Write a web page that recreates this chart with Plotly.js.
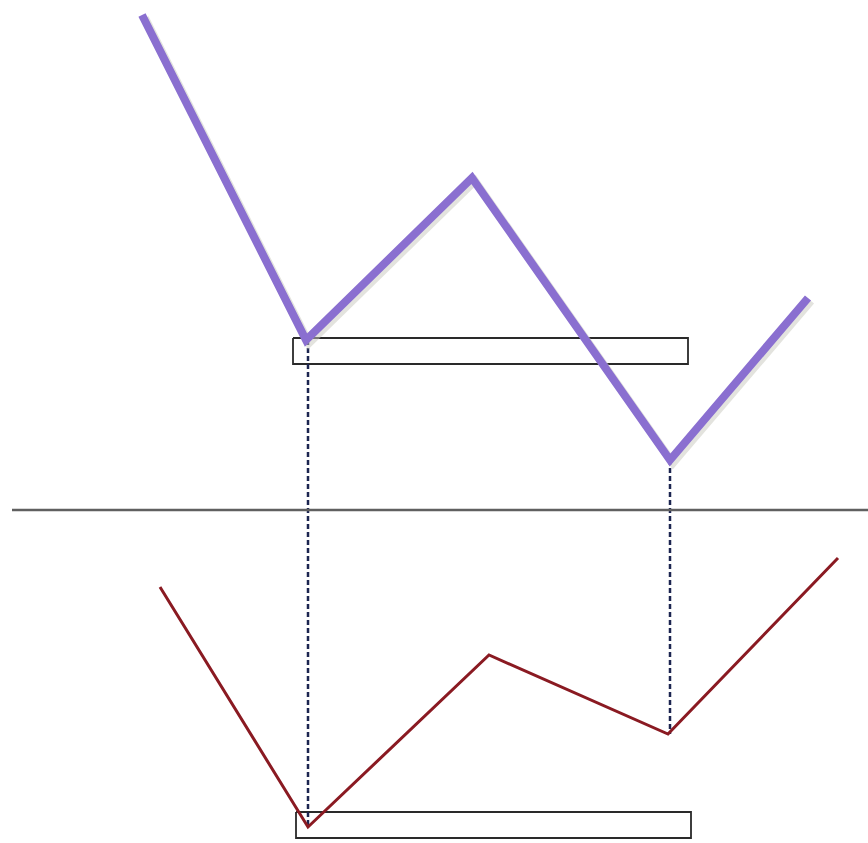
<!DOCTYPE html>
<html>
<head>
<meta charset="utf-8">
<script src="https://cdn.plot.ly/plotly-3.0.1.min.js"></script>
<style>html,body{margin:0;padding:0;background:#fff;}#chart{width:868px;height:843px;}</style>
</head>
<body>
<div id="chart"></div>
<script>
// Price line (upper, purple)
const priceX = [142, 306, 472, 670, 808];
const priceY = [15, 340, 178, 460, 298];
// Oscillator line (lower, red)
const oscX = [160, 308, 489, 668, 838];
const oscY = [587, 827, 655, 734, 558];
// Divider line
const dividerX = [12, 868];
const dividerY = [510, 510];
// Dashed connectors (x position, top y, bottom y)
const connX = [308, 670];
const connTop = [340, 460];
const connBottom = [827, 734];
// Horizontal boxes: [x0, x1], [y0, y1]
const boxUpperX = [293, 688];
const boxUpperY = [338, 364];
const boxLowerX = [296, 691];
const boxLowerY = [812, 838];

function rect(xs, ys) {
  return {x: [xs[0], xs[1], xs[1], xs[0], xs[0]], y: [ys[0], ys[0], ys[1], ys[1], ys[0]]};
}

const traces = [];
// boxes
[[boxUpperX, boxUpperY], [boxLowerX, boxLowerY]].forEach(function(b) {
  const r = rect(b[0], b[1]);
  traces.push({x: r.x, y: r.y, mode: 'lines', line: {color: '#2a2a2a', width: 1.8}, hoverinfo: 'skip'});
});
// dashed connectors
for (let i = 0; i < connX.length; i++) {
  traces.push({x: [connX[i], connX[i]], y: [connTop[i], connBottom[i]], mode: 'lines',
    line: {color: '#1c2550', width: 2.5, dash: '5px,3px'}, hoverinfo: 'skip'});
}
// divider
traces.push({x: dividerX, y: dividerY, mode: 'lines', line: {color: '#606060', width: 2.5}, hoverinfo: 'skip'});
// price shadow + line
traces.push({x: priceX.map(v => v + 3), y: priceY.map(v => v + 3), mode: 'lines', line: {color: 'rgba(200,200,190,0.5)', width: 8}, hoverinfo: 'skip'});
traces.push({x: priceX, y: priceY, mode: 'lines', line: {color: '#8a6fd0', width: 8}, name: 'Price'});
// oscillator
traces.push({x: oscX, y: oscY, mode: 'lines', line: {color: '#8a1a22', width: 3}, name: 'Oscillator'});

const layout = {
  width: 868, height: 843,
  margin: {l: 0, r: 0, t: 0, b: 0},
  paper_bgcolor: '#ffffff', plot_bgcolor: '#ffffff',
  showlegend: false,
  xaxis: {range: [0, 868], visible: false, fixedrange: true},
  yaxis: {range: [843, 0], visible: false, fixedrange: true}
};
Plotly.newPlot('chart', traces, layout, {displayModeBar: false, staticPlot: true});
</script>
</body>
</html>
